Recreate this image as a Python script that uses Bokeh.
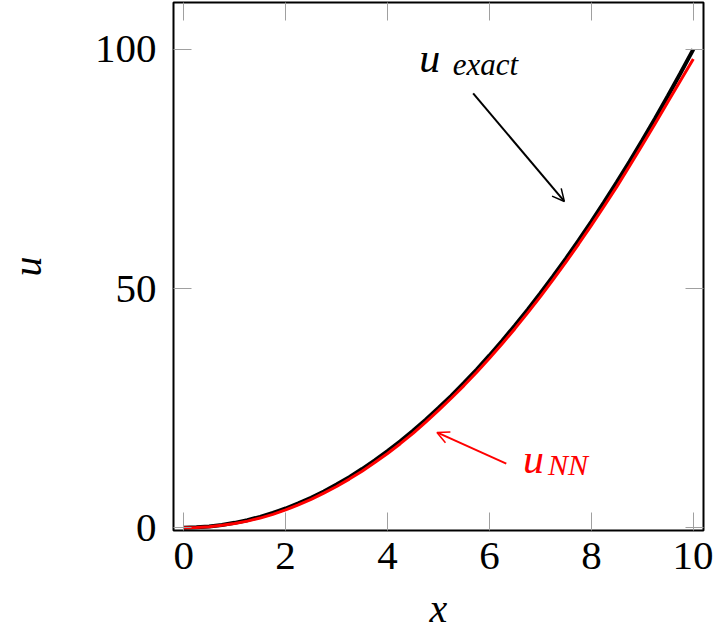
from bokeh.plotting import figure
from bokeh.models import Range1d, LinearAxis, Label, Arrow, OpenHead, FixedTicker
from bokeh.embed import file_html
from bokeh.resources import INLINE

# data
x_vals = [0, 0.25, 0.5, 0.75, 1, 1.25, 1.5, 1.75, 2, 2.25, 2.5, 2.75, 3, 3.25, 3.5, 3.75,
          4, 4.25, 4.5, 4.75, 5, 5.25, 5.5, 5.75, 6, 6.25, 6.5, 6.75, 7, 7.25, 7.5, 7.75,
          8, 8.25, 8.5, 8.75, 9, 9.25, 9.5, 9.75, 10]
u_exact = [0, 0.06, 0.25, 0.56, 1, 1.56, 2.25, 3.06, 4, 5.06, 6.25, 7.56, 9, 10.56, 12.25,
           14.06, 16, 18.06, 20.25, 22.56, 25, 27.56, 30.25, 33.06, 36, 39.06, 42.25,
           45.56, 49, 52.56, 56.25, 60.06, 64, 68.06, 72.25, 76.56, 81, 85.56, 90.25,
           95.06, 100]
u_nn = [0, 0.04, 0.2, 0.48, 0.85, 1.36, 2.0, 2.78, 3.7, 4.74, 5.9, 7.2, 8.6, 10.15, 11.8,
        13.6, 15.5, 17.55, 19.7, 22.05, 24.5, 27.05, 29.7, 32.5, 35.4, 38.45, 41.6,
        44.9, 48.3, 51.85, 55.5, 59.3, 63.2, 67.2, 71.3, 75.6, 80.0, 84.45, 89.0,
        93.5, 98.0]
x_ticks = [0, 2, 4, 6, 8, 10]
y_ticks = [0, 50, 100]

FONT = "Liberation Serif"
TICK_FS = "41px"
TICK_COLOR = "#a0a0a0"

p = figure(width=713, height=637, output_backend="svg", toolbar_location=None,
           x_range=Range1d(-0.2, 10.2), y_range=Range1d(-0.6, 109.8),
           min_border_left=173, min_border_right=10, min_border_top=2, min_border_bottom=107)
p.background_fill_color = "white"
p.grid.visible = False
p.outline_line_color = "black"
p.outline_line_width = 2

for ax in (p.xaxis[0], p.yaxis[0]):
    ax.axis_line_color = None
    ax.major_tick_in = 18
    ax.major_tick_out = 0
    ax.major_tick_line_color = TICK_COLOR
    ax.major_tick_line_width = 1
    ax.minor_tick_line_color = None
    ax.major_label_text_font = FONT
    ax.major_label_text_font_size = TICK_FS
    ax.major_label_text_color = "black"
    ax.axis_label_text_font = FONT
    ax.axis_label_text_font_style = "italic"
    ax.axis_label_text_font_size = "40px"
    ax.axis_label_text_color = "black"

p.xaxis[0].ticker = FixedTicker(ticks=x_ticks)
p.yaxis[0].ticker = FixedTicker(ticks=y_ticks)
p.xaxis[0].axis_label = "x"
p.yaxis[0].axis_label = "u"
p.xaxis[0].major_label_standoff = 12
p.yaxis[0].major_label_standoff = 17
p.xaxis[0].axis_label_standoff = 14
p.yaxis[0].axis_label_standoff = 42

blank_x = {t: "" for t in x_ticks}
blank_y = {t: "" for t in y_ticks}
top = LinearAxis(ticker=FixedTicker(ticks=x_ticks), major_label_overrides=blank_x,
                 axis_line_color=None, major_tick_in=18, major_tick_out=0,
                 major_tick_line_color=TICK_COLOR, minor_tick_line_color=None,
                 major_label_standoff=0)
right = LinearAxis(ticker=FixedTicker(ticks=y_ticks), major_label_overrides=blank_y,
                   axis_line_color=None, major_tick_in=18, major_tick_out=0,
                   major_tick_line_color=TICK_COLOR, minor_tick_line_color=None,
                   major_label_standoff=0)
p.add_layout(top, "above")
p.add_layout(right, "right")

p.line(x_vals, u_exact, line_color="black", line_width=4)
p.line(x_vals, u_nn, line_color="red", line_width=3)

# annotations
ex_u = (4.62, 98.1)
ex_sub = (5.28, 96.8)
ex_arrow = (5.68, 90.8, 7.47, 68.2)
nn_u = (6.66, 14.4)
nn_sub = (7.15, 13.2)
nn_arrow = (6.33, 13.4, 4.97, 19.9)

p.add_layout(Label(x=ex_u[0], y=ex_u[1], text="u", text_font=FONT, text_font_style="italic",
                   text_font_size="42px", text_color="black", text_baseline="alphabetic"))
p.add_layout(Label(x=ex_sub[0], y=ex_sub[1], text="exact", text_font=FONT, text_font_style="italic",
                   text_font_size="31px", text_color="black", text_baseline="alphabetic"))
p.add_layout(Arrow(x_start=ex_arrow[0], y_start=ex_arrow[1], x_end=ex_arrow[2], y_end=ex_arrow[3],
                   line_color="black", line_width=2,
                   end=OpenHead(size=12, line_color="black", line_width=1.5)))

p.add_layout(Label(x=nn_u[0], y=nn_u[1], text="u", text_font=FONT, text_font_style="italic",
                   text_font_size="42px", text_color="red", text_baseline="alphabetic"))
p.add_layout(Label(x=nn_sub[0], y=nn_sub[1], text="NN", text_font=FONT, text_font_style="italic",
                   text_font_size="30px", text_color="red", text_baseline="alphabetic"))
p.add_layout(Arrow(x_start=nn_arrow[0], y_start=nn_arrow[1], x_end=nn_arrow[2], y_end=nn_arrow[3],
                   line_color="red", line_width=2,
                   end=OpenHead(size=12, line_color="red", line_width=1.5)))

open("out.html", "w").write(file_html(p, INLINE))
